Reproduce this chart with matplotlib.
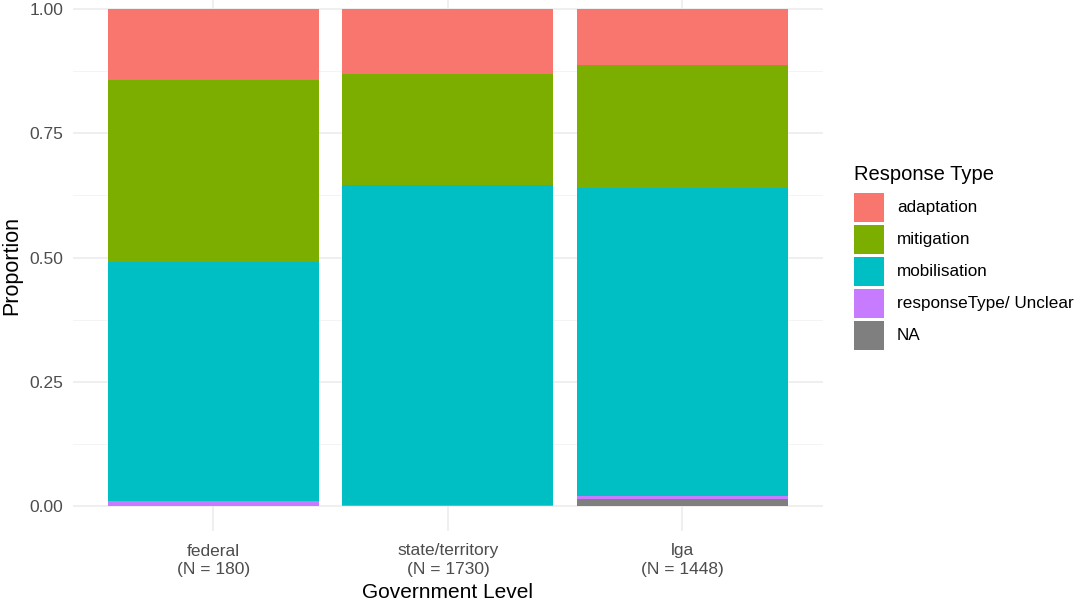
import matplotlib
matplotlib.use("Agg")
import matplotlib.pyplot as plt
from matplotlib.patches import Rectangle
import numpy as np

plt.rcParams['font.family'] = ['Liberation Sans', 'DejaVu Sans']

levels = ["federal", "state/territory", "lga"]
counts = [180, 1730, 1448]
response_types = ["adaptation", "mitigation", "mobilisation", "responseType/ Unclear", "NA"]
adaptation = [0.143, 0.131, 0.113]
mitigation = [0.366, 0.224, 0.247]
mobilisation = [0.480, 0.643, 0.620]
unclear = [0.011, 0.002, 0.005]
na_vals = [0.000, 0.000, 0.015]
colors = ["#F8766D", "#7CAE00", "#00BFC4", "#C77CFF", "#7F7F7F"]

series = [adaptation, mitigation, mobilisation, unclear, na_vals]

fig = plt.figure(figsize=(10.8, 6.08), dpi=100)
W, H = 1080, 608
ax = fig.add_axes([72.8 / W, 1 - 531 / H, (823 - 72.8) / W, 531 / H])

x = np.arange(1, len(levels) + 1)
bottom = np.zeros(len(levels))
# stack from bottom: NA, unclear, mobilisation, mitigation, adaptation
for name, vals, col in reversed(list(zip(response_types, series, colors))):
    ax.bar(x, vals, width=0.9, bottom=bottom, color=col, edgecolor='none', zorder=3, label=name)
    bottom += np.array(vals)

ax.set_xlim(0.4, 3.6)
ax.set_ylim(-25 / 497, 1 + 9 / 497)
ax.set_yticks([0, 0.25, 0.5, 0.75, 1.0])
ax.set_yticklabels(["0.00", "0.25", "0.50", "0.75", "1.00"])
ax.set_yticks([0.125, 0.375, 0.625, 0.875], minor=True)
ax.set_xticks(x)
ax.set_xticklabels([f"{l}\n(N = {n})" for l, n in zip(levels, counts)], linespacing=1.3)
ax.grid(True, which='major', color='#EBEBEB', linewidth=1.1, zorder=0)
ax.grid(True, which='minor', axis='y', color='#F2F2F2', linewidth=0.6, zorder=0)
for s in ax.spines.values():
    s.set_visible(False)
ax.tick_params(axis='both', which='both', length=0, labelsize=12.5, labelcolor='#4D4D4D')
ax.tick_params(axis='y', pad=7)
ax.tick_params(axis='x', pad=9)
ax.set_xlabel("Government Level", fontsize=15, color='black', labelpad=4)
ax.set_ylabel("Proportion", fontsize=15.5, color='black', labelpad=5)

# legend (ggplot-style, drawn in figure pixel coordinates)
def fx(px):
    return px / W

def fy(py):
    return 1 - py / H

fig.text(fx(854), fy(175), "Response Type", fontsize=14.5, color='black', ha='left', va='center')
for i, (name, col) in enumerate(zip(response_types, colors)):
    top = 193 + 32 * i
    fig.add_artist(Rectangle((fx(854), fy(top + 29)), 30 / W, 29 / H,
                             transform=fig.transFigure, facecolor=col, edgecolor='none'))
    fig.text(fx(897), fy(top + 14.5), name, fontsize=12.3, color='black', ha='left', va='center')

fig.savefig("out.png", dpi=100, facecolor='white')
